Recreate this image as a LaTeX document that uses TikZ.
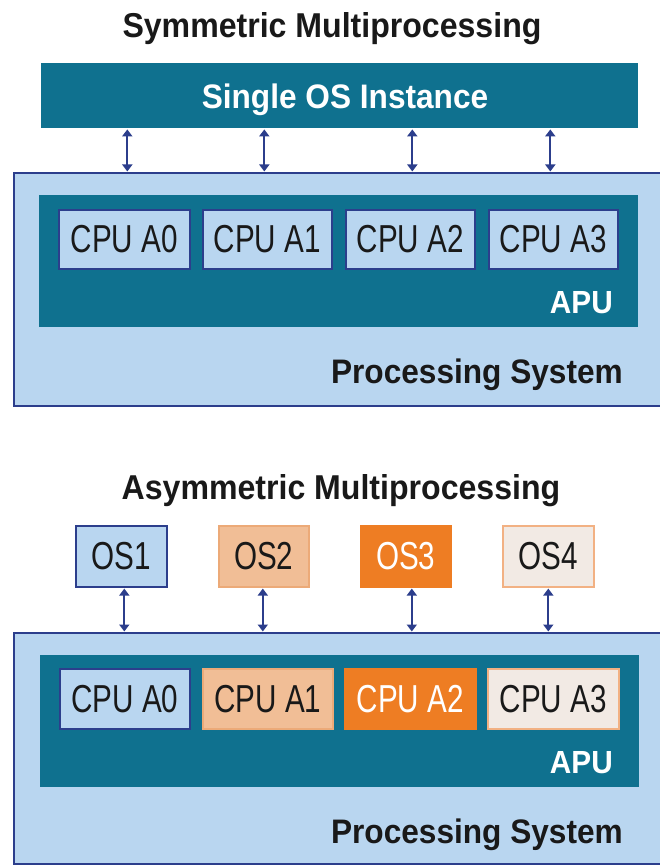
\documentclass[tikz,border=0pt]{standalone}
\usepackage{fontspec}
\setmainfont{Liberation Sans}
\newfontfamily\condfont{Liberation Sans}[FakeStretch=0.76]
\newfontfamily\condbold{Liberation Sans}[FakeStretch=0.93,UprightFont=*-Bold]
\usetikzlibrary{arrows.meta}

\definecolor{teal}{RGB}{15,113,143}
\definecolor{lightblue}{RGB}{185,214,240}
\definecolor{navy}{RGB}{44,62,140}
\definecolor{peach}{RGB}{241,190,150}
\definecolor{peachline}{RGB}{236,170,120}
\definecolor{orangefill}{RGB}{238,125,35}
\definecolor{beige}{RGB}{242,234,228}
\definecolor{beigeline}{RGB}{242,177,131}
\definecolor{ink}{RGB}{25,25,25}

\tikzset{
  x=1pt, y=-1pt,
  titletext/.style={font=\condbold\fontsize{34.5}{36}\selectfont, text=ink, inner sep=0pt},
  labeltext/.style={font=\condbold\fontsize{34}{36}\selectfont, inner sep=0pt},
  apulabel/.style={font=\condbold\fontsize{32}{34}\selectfont, inner sep=0pt, text=white},
  systembox/.style={draw=navy, line width=1.8pt, fill=lightblue, inner sep=0pt},
  apubox/.style={fill=teal, inner sep=0pt},
  cpubox/.style={line width=1.6pt, inner sep=0pt, minimum height=59pt,
    font=\condfont\fontsize{39}{42}\selectfont, text=ink},
  cpublue/.style={cpubox, draw=navy, fill=lightblue},
  cpupeach/.style={cpubox, draw=peachline, fill=peach},
  cpuorange/.style={cpubox, draw=orangefill, fill=orangefill, text=white},
  cpubeige/.style={cpubox, draw=beigeline, fill=beige},
  link/.style={draw=navy, line width=2.2pt, shorten <=1pt, shorten >=0.5pt,
    {Triangle[length=7pt,width=10pt]}-{Triangle[length=7pt,width=10pt]}},
}

\begin{document}
\begin{tikzpicture}
\useasboundingbox (0,0) rectangle (660,866);
\clip (0,0) rectangle (660,866);
\fill[white] (0,0) rectangle (660,866);

% ---------- Symmetric multiprocessing ----------
\node[titletext, anchor=base] (smptitle) at (332,38) {Symmetric Multiprocessing};

\node[apubox, minimum width=597pt, minimum height=65pt, anchor=north west]
  (osbar) at (41,63) {};
\node[labeltext, text=white, anchor=base] (ostext) at (345,109) {Single OS Instance};

\node[systembox, minimum width=672pt, minimum height=233pt, anchor=north west]
  (ps1) at (13,172) {};
\node[apubox, minimum width=599pt, minimum height=132pt, anchor=north west]
  (apu1) at (39,195) {};

\node[cpublue, minimum width=131pt, anchor=north west] (c10) at (58,209) {CPU A0};
\node[cpublue, minimum width=129pt, anchor=north west] (c11) at (202,209) {CPU A1};
\node[cpublue, minimum width=129pt, anchor=north west] (c12) at (345,209) {CPU A2};
\node[cpublue, minimum width=129pt, anchor=north west] (c13) at (488,209) {CPU A3};

\node[apulabel, anchor=base east] (apulabel1) at (613,313) {APU};
\node[labeltext, text=ink, anchor=base east] (pslabel1) at (623,383) {Processing System};

% links from the OS bar down to the processing system
\foreach \c/\dx in {c10/3,c11/-3,c12/2,c13/-3}
  \draw[link] ([xshift=\dx pt]\c |- osbar.south) -- ([xshift=\dx pt]\c |- ps1.north);

% ---------- Asymmetric multiprocessing ----------
\node[titletext, anchor=base] (amptitle) at (341,499) {Asymmetric Multiprocessing};

\node[cpublue,   minimum width=91pt, minimum height=61pt, anchor=north west] (os1) at (75,525) {OS1};
\node[cpupeach,  minimum width=90pt, minimum height=61pt, anchor=north west] (os2) at (218,525) {OS2};
\node[cpuorange, minimum width=90pt, minimum height=61pt, anchor=north west] (os3) at (360,525) {OS3};
\node[cpubeige,  minimum width=91pt, minimum height=61pt, anchor=north west] (os4) at (502,525) {OS4};

\node[systembox, minimum width=672pt, minimum height=231pt, anchor=north west]
  (ps2) at (13,632) {};
\node[apubox, minimum width=599pt, minimum height=132pt, anchor=north west]
  (apu2) at (40,655) {};

\node[cpublue,   minimum width=130pt, minimum height=60pt, anchor=north west] (c20) at (59,668) {CPU A0};
\node[cpupeach,  minimum width=130pt, minimum height=60pt, anchor=north west] (c21) at (202,668) {CPU A1};
\node[cpuorange, minimum width=131pt, minimum height=60pt, anchor=north west] (c22) at (344,668) {CPU A2};
\node[cpubeige,  minimum width=131pt, minimum height=60pt, anchor=north west] (c23) at (487,668) {CPU A3};

\node[apulabel, anchor=base east] (apulabel2) at (613,773) {APU};
\node[labeltext, text=ink, anchor=base east] (pslabel2) at (623,843) {Processing System};

% links from each OS down to the processing system
\foreach \o/\dx in {os1/3,os2/-1,os3/6,os4/0}
  \draw[link] ([xshift=\dx pt]\o.south) -- ([xshift=\dx pt]\o.south |- ps2.north);
\end{tikzpicture}
\end{document}
